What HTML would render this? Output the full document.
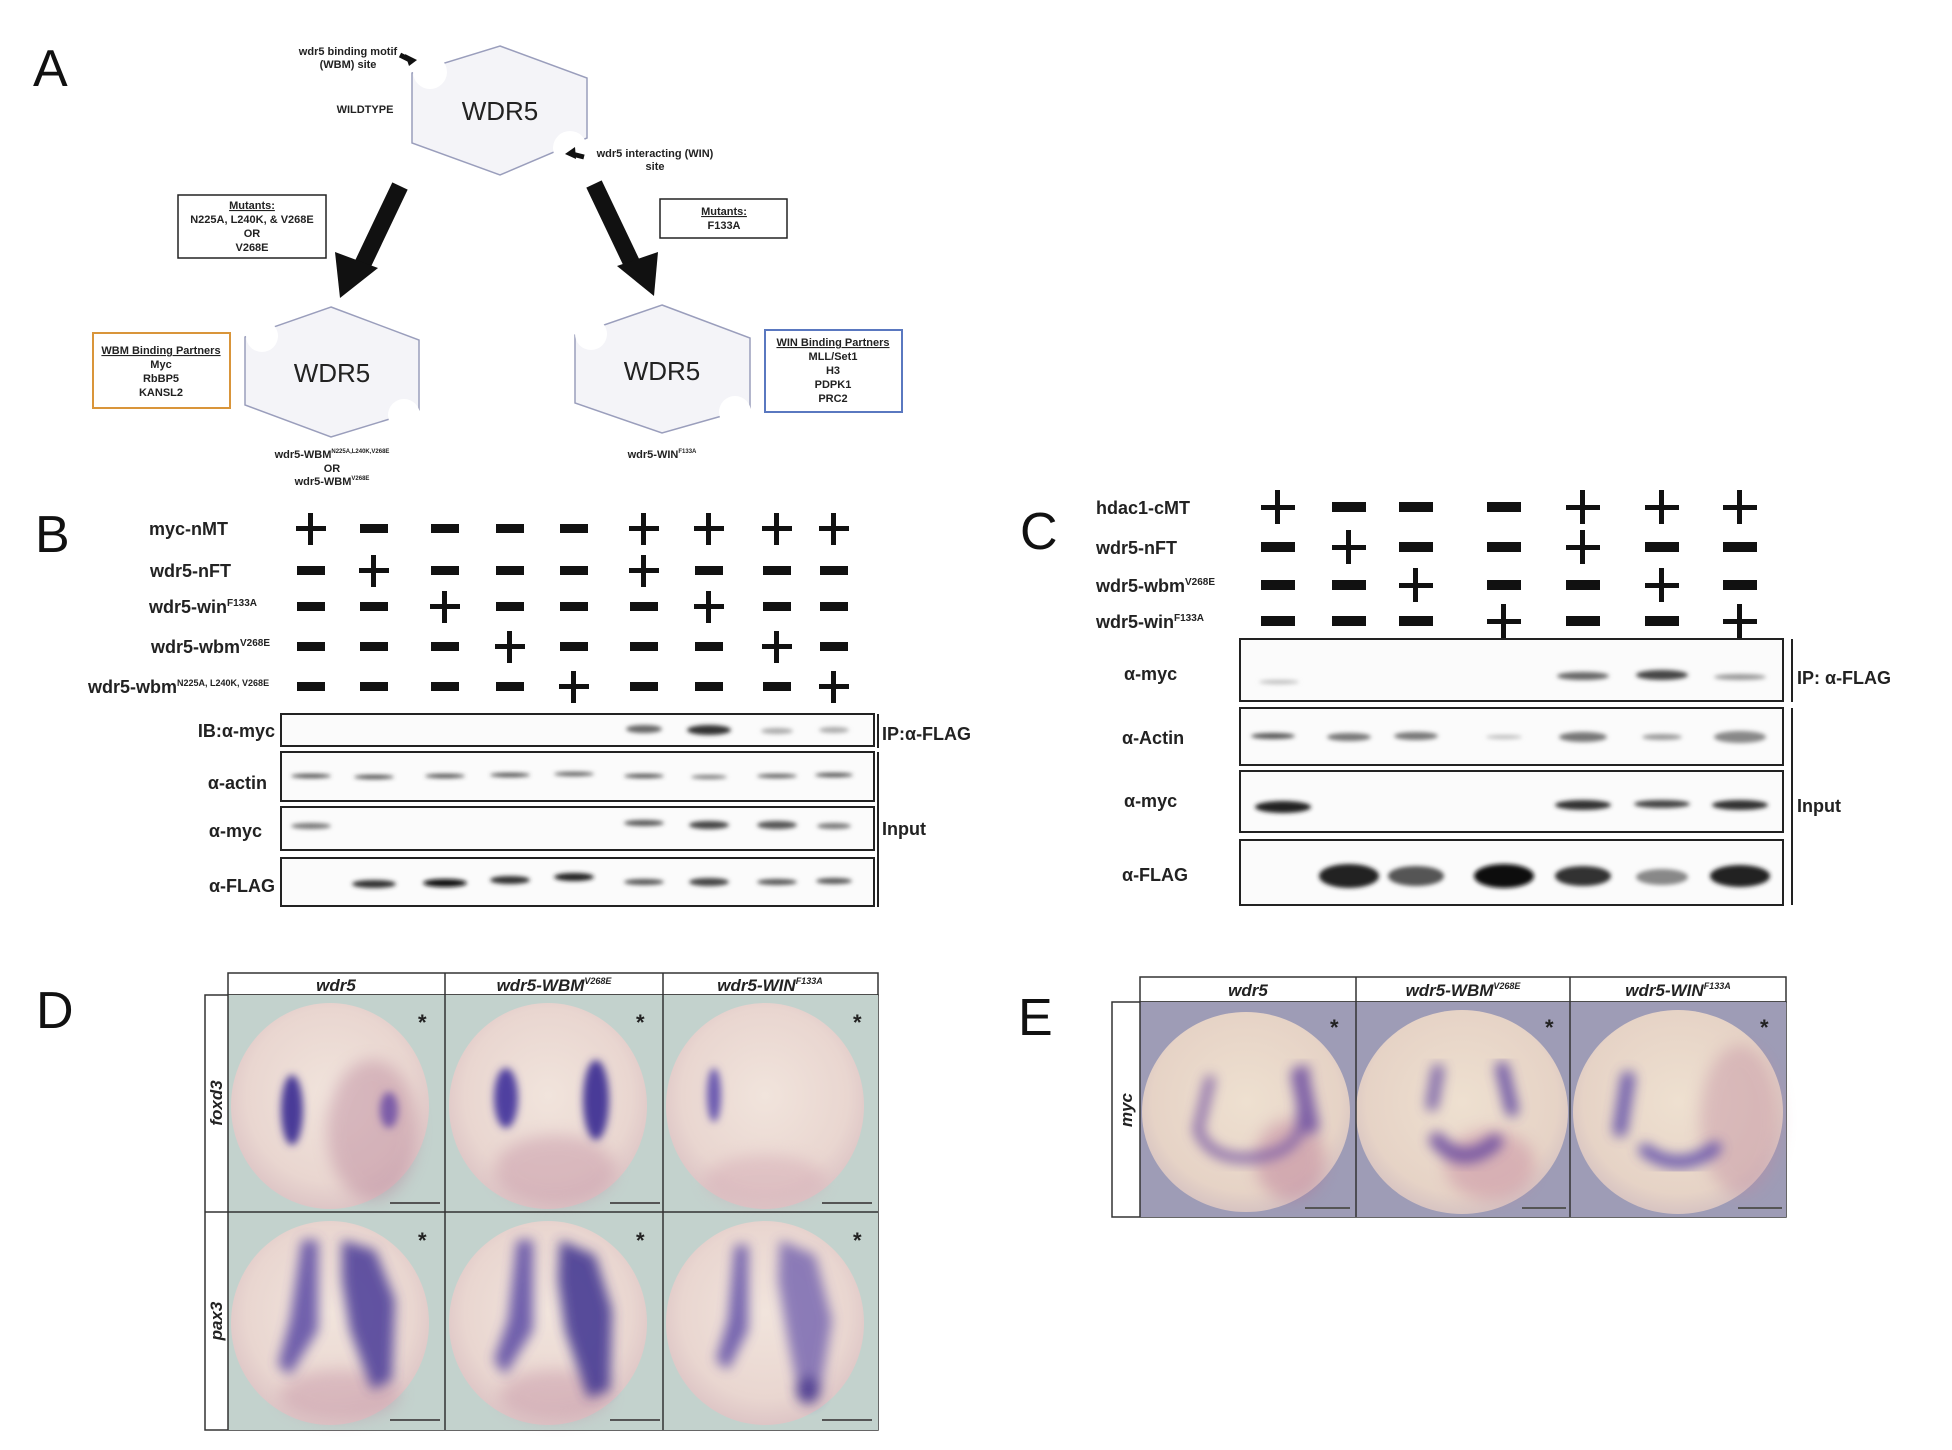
<!DOCTYPE html>
<html><head><meta charset="utf-8">
<style>
html,body{margin:0;padding:0;background:#fff;}
svg{display:block;}
text{font-family:"Liberation Sans Narrow","Liberation Sans",sans-serif;font-weight:bold;fill:#222;}
.s{font-size:11px;}
.lab{font-size:18px;}
.big{font-family:"Liberation Sans","DejaVu Sans",sans-serif;font-weight:normal;font-size:52px;fill:#111;}
.it{font-style:italic;font-size:17px;}
</style></head><body>
<svg width="1952" height="1450" viewBox="0 0 1952 1450" xmlns="http://www.w3.org/2000/svg">
<defs>
<filter id="b2"><feGaussianBlur stdDeviation="2"/></filter>
<filter id="b4"><feGaussianBlur stdDeviation="4"/></filter>
<filter id="b6"><feGaussianBlur stdDeviation="6"/></filter>
<filter id="b8"><feGaussianBlur stdDeviation="8"/></filter>
<radialGradient id="emb" cx="50%" cy="45%" r="60%">
<stop offset="0" stop-color="#f1e4dc"/><stop offset="0.7" stop-color="#e9d6d0"/><stop offset="1" stop-color="#d9bfc2"/>
</radialGradient>
<radialGradient id="embE" cx="50%" cy="45%" r="60%">
<stop offset="0" stop-color="#eee0d0"/><stop offset="0.75" stop-color="#e6d3c6"/><stop offset="1" stop-color="#d0bcc0"/>
</radialGradient>
</defs>

<!-- ===== Panel A ===== -->
<text x="33" y="86" class="big">A</text>
<polygon points="500,46 587,78 587,138 500,175 412,143 412,73" fill="#f4f4f8" stroke="#9a9ebc" stroke-width="1.5"/>
<circle cx="430" cy="72" r="17" fill="#fff"/>
<circle cx="570" cy="148" r="17" fill="#fff"/>
<text x="500" y="120" font-size="26" style="font-family:'Liberation Sans',sans-serif;font-weight:normal" text-anchor="middle">WDR5</text>
<text x="365" y="113" class="s" text-anchor="middle">WILDTYPE</text>
<text x="348" y="55" class="s" text-anchor="middle">wdr5 binding motif</text>
<text x="348" y="68" class="s" text-anchor="middle">(WBM) site</text>
<path d="M405,54 L417,60 L409,66 Z" fill="#111"/><line x1="400" y1="55" x2="412" y2="61" stroke="#111" stroke-width="5"/>
<path d="M565,154 L575,147 L576,159 Z" fill="#111"/><line x1="584" y1="157" x2="572" y2="154" stroke="#111" stroke-width="5"/>
<text x="655" y="157" class="s" text-anchor="middle">wdr5 interacting (WIN)</text>
<text x="655" y="170" class="s" text-anchor="middle">site</text>
<line x1="400" y1="186" x2="360" y2="270" stroke="#111" stroke-width="17"/>
<polygon points="340,298 335,252 378,268" fill="#111"/>
<line x1="594" y1="184" x2="634" y2="268" stroke="#111" stroke-width="17"/>
<polygon points="654,296 617,266 658,252" fill="#111"/>
<rect x="178" y="195" width="148" height="63" fill="#fff" stroke="#222" stroke-width="1.5"/>
<text x="252" y="209" class="s" text-anchor="middle" text-decoration="underline">Mutants:</text>
<text x="252" y="223" class="s" text-anchor="middle">N225A, L240K, &amp; V268E</text>
<text x="252" y="237" class="s" text-anchor="middle">OR</text>
<text x="252" y="251" class="s" text-anchor="middle">V268E</text>
<rect x="660" y="199" width="127" height="39" fill="#fff" stroke="#222" stroke-width="1.5"/>
<text x="724" y="215" class="s" text-anchor="middle" text-decoration="underline">Mutants:</text>
<text x="724" y="229" class="s" text-anchor="middle">F133A</text>
<polygon points="331,307 419,340 419,410 331,437 245,405 245,337" fill="#f4f4f8" stroke="#9a9ebc" stroke-width="1.5"/>
<circle cx="262" cy="336" r="16" fill="#fff"/>
<circle cx="404" cy="415" r="16" fill="#fff"/>
<text x="332" y="382" font-size="26" style="font-family:'Liberation Sans',sans-serif;font-weight:normal" text-anchor="middle">WDR5</text>
<polygon points="662,305 750,338 750,408 662,433 575,403 575,335" fill="#f4f4f8" stroke="#9a9ebc" stroke-width="1.5"/>
<circle cx="591" cy="334" r="16" fill="#fff"/>
<circle cx="735" cy="412" r="16" fill="#fff"/>
<text x="662" y="380" font-size="26" style="font-family:'Liberation Sans',sans-serif;font-weight:normal" text-anchor="middle">WDR5</text>
<rect x="93" y="333" width="137" height="75" fill="#fff" stroke="#d9953a" stroke-width="2"/>
<text x="161" y="354" class="s" text-anchor="middle" text-decoration="underline">WBM Binding Partners</text>
<text x="161" y="368" class="s" text-anchor="middle">Myc</text>
<text x="161" y="382" class="s" text-anchor="middle">RbBP5</text>
<text x="161" y="396" class="s" text-anchor="middle">KANSL2</text>
<rect x="765" y="330" width="137" height="82" fill="#fff" stroke="#5a78c0" stroke-width="2"/>
<text x="833" y="346" class="s" text-anchor="middle" text-decoration="underline">WIN Binding Partners</text>
<text x="833" y="360" class="s" text-anchor="middle">MLL/Set1</text>
<text x="833" y="374" class="s" text-anchor="middle">H3</text>
<text x="833" y="388" class="s" text-anchor="middle">PDPK1</text>
<text x="833" y="402" class="s" text-anchor="middle">PRC2</text>
<text x="332" y="458" class="s" text-anchor="middle">wdr5-WBM<tspan font-size="6" dy="-5">N225A,L240K,V268E</tspan></text>
<text x="332" y="472" class="s" text-anchor="middle">OR</text>
<text x="332" y="485" class="s" text-anchor="middle">wdr5-WBM<tspan font-size="6" dy="-5">V268E</tspan></text>
<text x="662" y="458" class="s" text-anchor="middle">wdr5-WIN<tspan font-size="6" dy="-5">F133A</tspan></text>

<!-- ===== Panel B ===== -->
<text x="35" y="552" class="big">B</text>
<text x="149" y="535" class="lab">myc-nMT</text>
<text x="150" y="577" class="lab">wdr5-nFT</text>
<text x="149" y="613" class="lab">wdr5-win<tspan font-size="10" dy="-7">F133A</tspan></text>
<text x="151" y="653" class="lab">wdr5-wbm<tspan font-size="10" dy="-7">V268E</tspan></text>
<text x="88" y="693" class="lab" font-size="16">wdr5-wbm<tspan font-size="9" dy="-7">N225A, L240K, V268E</tspan></text>
<g fill="#111">
<path d="M296,526h30v5h-30zM308,513h5v32h-5z"/>
<rect x="360" y="524" width="28" height="9"/><rect x="431" y="524" width="28" height="9"/><rect x="496" y="524" width="28" height="9"/><rect x="560" y="524" width="28" height="9"/>
<path d="M629,526h30v5h-30zM641,513h5v32h-5z"/><path d="M694,526h30v5h-30zM706,513h5v32h-5z"/><path d="M762,526h30v5h-30zM774,513h5v32h-5z"/><path d="M819,526h30v5h-30zM831,513h5v32h-5z"/>
<rect x="297" y="566" width="28" height="9"/><path d="M359,568h30v5h-30zM371,555h5v32h-5z"/><rect x="431" y="566" width="28" height="9"/><rect x="496" y="566" width="28" height="9"/><rect x="560" y="566" width="28" height="9"/>
<path d="M629,568h30v5h-30zM641,555h5v32h-5z"/><rect x="695" y="566" width="28" height="9"/><rect x="763" y="566" width="28" height="9"/><rect x="820" y="566" width="28" height="9"/>
<rect x="297" y="602" width="28" height="9"/><rect x="360" y="602" width="28" height="9"/><path d="M430,604h30v5h-30zM442,591h5v32h-5z"/><rect x="496" y="602" width="28" height="9"/><rect x="560" y="602" width="28" height="9"/>
<rect x="630" y="602" width="28" height="9"/><path d="M694,604h30v5h-30zM706,591h5v32h-5z"/><rect x="763" y="602" width="28" height="9"/><rect x="820" y="602" width="28" height="9"/>
<rect x="297" y="642" width="28" height="9"/><rect x="360" y="642" width="28" height="9"/><rect x="431" y="642" width="28" height="9"/><path d="M495,644h30v5h-30zM507,631h5v32h-5z"/><rect x="560" y="642" width="28" height="9"/>
<rect x="630" y="642" width="28" height="9"/><rect x="695" y="642" width="28" height="9"/><path d="M762,644h30v5h-30zM774,631h5v32h-5z"/><rect x="820" y="642" width="28" height="9"/>
<rect x="297" y="682" width="28" height="9"/><rect x="360" y="682" width="28" height="9"/><rect x="431" y="682" width="28" height="9"/><rect x="496" y="682" width="28" height="9"/><path d="M559,684h30v5h-30zM571,671h5v32h-5z"/>
<rect x="630" y="682" width="28" height="9"/><rect x="695" y="682" width="28" height="9"/><rect x="763" y="682" width="28" height="9"/><path d="M819,684h30v5h-30zM831,671h5v32h-5z"/>
</g>
<g fill="#fbfbfb" stroke="#222" stroke-width="2">
<rect x="281" y="714" width="593" height="32"/>
<rect x="281" y="752" width="593" height="49"/>
<rect x="281" y="807" width="593" height="43"/>
<rect x="281" y="858" width="593" height="48"/>
</g>
<line x1="878" y1="714" x2="878" y2="748" stroke="#222" stroke-width="2"/>
<line x1="878" y1="752" x2="878" y2="907" stroke="#222" stroke-width="2"/>
<g filter="url(#b2)">
<ellipse cx="644" cy="729" rx="18" ry="4" fill="#666"/><ellipse cx="709" cy="730" rx="22" ry="5" fill="#333"/><ellipse cx="777" cy="731" rx="16" ry="3" fill="#aaa"/><ellipse cx="834" cy="730" rx="15" ry="3" fill="#aaa"/>
<ellipse cx="311" cy="776" rx="20" ry="2" fill="#444"/><ellipse cx="374" cy="777" rx="20" ry="2" fill="#444"/><ellipse cx="445" cy="776" rx="20" ry="2" fill="#444"/><ellipse cx="510" cy="775" rx="20" ry="2" fill="#444"/><ellipse cx="574" cy="774" rx="20" ry="2" fill="#555"/><ellipse cx="644" cy="776" rx="20" ry="2" fill="#444"/><ellipse cx="709" cy="777" rx="18" ry="2" fill="#777"/><ellipse cx="777" cy="776" rx="20" ry="2" fill="#555"/><ellipse cx="834" cy="775" rx="19" ry="2" fill="#444"/>
<ellipse cx="311" cy="826" rx="20" ry="3" fill="#777"/><ellipse cx="644" cy="823" rx="20" ry="3" fill="#555"/><ellipse cx="709" cy="825" rx="20" ry="4" fill="#444"/><ellipse cx="777" cy="825" rx="20" ry="4" fill="#555"/><ellipse cx="834" cy="826" rx="17" ry="3" fill="#777"/>
<ellipse cx="374" cy="884" rx="22" ry="4" fill="#333"/><ellipse cx="445" cy="883" rx="22" ry="4" fill="#111"/><ellipse cx="510" cy="880" rx="20" ry="4" fill="#333"/><ellipse cx="574" cy="877" rx="20" ry="4" fill="#222"/><ellipse cx="644" cy="882" rx="20" ry="3" fill="#555"/><ellipse cx="709" cy="882" rx="20" ry="4" fill="#444"/><ellipse cx="777" cy="882" rx="20" ry="3" fill="#555"/><ellipse cx="834" cy="881" rx="18" ry="3" fill="#555"/>
</g>
<text x="275" y="737" class="lab" font-size="21" text-anchor="end">IB:α-myc</text>
<text x="267" y="789" class="lab" font-size="21" text-anchor="end">α-actin</text>
<text x="262" y="837" class="lab" font-size="21" text-anchor="end">α-myc</text>
<text x="275" y="892" class="lab" font-size="21" text-anchor="end">α-FLAG</text>
<text x="882" y="740" class="lab" font-size="21">IP:α-FLAG</text>
<text x="882" y="835" class="lab" font-size="21">Input</text>

<!-- ===== Panel C ===== -->
<text x="1020" y="549" class="big">C</text>
<text x="1096" y="514" class="lab">hdac1-cMT</text>
<text x="1096" y="554" class="lab">wdr5-nFT</text>
<text x="1096" y="592" class="lab">wdr5-wbm<tspan font-size="10" dy="-7">V268E</tspan></text>
<text x="1096" y="628" class="lab">wdr5-win<tspan font-size="10" dy="-7">F133A</tspan></text>
<g fill="#111">
<path d="M1261,505h34v5h-34zM1275,490h5v34h-5z"/><rect x="1332" y="502" width="34" height="10"/><rect x="1399" y="502" width="34" height="10"/><rect x="1487" y="502" width="34" height="10"/>
<path d="M1566,505h34v5h-34zM1580,490h5v34h-5z"/><path d="M1645,505h34v5h-34zM1659,490h5v34h-5z"/><path d="M1723,505h34v5h-34zM1737,490h5v34h-5z"/>
<rect x="1261" y="542" width="34" height="10"/><path d="M1332,545h34v5h-34zM1346,530h5v34h-5z"/><rect x="1399" y="542" width="34" height="10"/><rect x="1487" y="542" width="34" height="10"/>
<path d="M1566,545h34v5h-34zM1580,530h5v34h-5z"/><rect x="1645" y="542" width="34" height="10"/><rect x="1723" y="542" width="34" height="10"/>
<rect x="1261" y="580" width="34" height="10"/><rect x="1332" y="580" width="34" height="10"/><path d="M1399,583h34v5h-34zM1413,568h5v34h-5z"/><rect x="1487" y="580" width="34" height="10"/>
<rect x="1566" y="580" width="34" height="10"/><path d="M1645,583h34v5h-34zM1659,568h5v34h-5z"/><rect x="1723" y="580" width="34" height="10"/>
<rect x="1261" y="616" width="34" height="10"/><rect x="1332" y="616" width="34" height="10"/><rect x="1399" y="616" width="34" height="10"/><path d="M1487,619h34v5h-34zM1501,604h5v34h-5z"/>
<rect x="1566" y="616" width="34" height="10"/><rect x="1645" y="616" width="34" height="10"/><path d="M1723,619h34v5h-34zM1737,604h5v34h-5z"/>
</g>
<g fill="#fbfbfb" stroke="#222" stroke-width="2">
<rect x="1240" y="639" width="543" height="62"/>
<rect x="1240" y="708" width="543" height="57"/>
<rect x="1240" y="771" width="543" height="61"/>
<rect x="1240" y="840" width="543" height="65"/>
</g>
<line x1="1792" y1="639" x2="1792" y2="702" stroke="#222" stroke-width="2"/>
<line x1="1792" y1="708" x2="1792" y2="905" stroke="#222" stroke-width="2"/>
<g filter="url(#b2)">
<ellipse cx="1583" cy="676" rx="26" ry="4" fill="#666"/><ellipse cx="1662" cy="675" rx="26" ry="5" fill="#444"/><ellipse cx="1740" cy="677" rx="26" ry="3" fill="#999"/>
<ellipse cx="1279" cy="682" rx="20" ry="2" fill="#bbb"/>
<ellipse cx="1273" cy="736" rx="22" ry="3" fill="#555"/><ellipse cx="1349" cy="737" rx="22" ry="4" fill="#777"/><ellipse cx="1416" cy="736" rx="22" ry="4" fill="#777"/><ellipse cx="1504" cy="737" rx="18" ry="2" fill="#bbb"/><ellipse cx="1583" cy="737" rx="24" ry="5" fill="#777"/><ellipse cx="1662" cy="737" rx="20" ry="3" fill="#999"/><ellipse cx="1740" cy="737" rx="26" ry="6" fill="#888"/>
<ellipse cx="1283" cy="807" rx="28" ry="6" fill="#222"/><ellipse cx="1583" cy="805" rx="28" ry="5" fill="#333"/><ellipse cx="1662" cy="804" rx="28" ry="4" fill="#444"/><ellipse cx="1740" cy="805" rx="28" ry="5" fill="#333"/>
<ellipse cx="1349" cy="876" rx="30" ry="12" fill="#222"/><ellipse cx="1416" cy="876" rx="28" ry="10" fill="#555"/><ellipse cx="1504" cy="876" rx="30" ry="12" fill="#111"/><ellipse cx="1583" cy="876" rx="28" ry="10" fill="#333"/><ellipse cx="1662" cy="877" rx="26" ry="8" fill="#888"/><ellipse cx="1740" cy="876" rx="30" ry="11" fill="#222"/>
</g>
<text x="1124" y="680" class="lab" font-size="23">α-myc</text>
<text x="1122" y="744" class="lab" font-size="23">α-Actin</text>
<text x="1124" y="807" class="lab" font-size="23">α-myc</text>
<text x="1122" y="881" class="lab" font-size="23">α-FLAG</text>
<text x="1797" y="684" class="lab" font-size="23">IP: α-FLAG</text>
<text x="1797" y="812" class="lab" font-size="23">Input</text>

<!-- ===== Panel D ===== -->
<text x="36" y="1028" class="big">D</text>
<rect x="228" y="973" width="650" height="22" fill="#fff" stroke="#333" stroke-width="1.5"/>
<line x1="445" y1="973" x2="445" y2="995" stroke="#333" stroke-width="1.5"/>
<line x1="663" y1="973" x2="663" y2="995" stroke="#333" stroke-width="1.5"/>
<text x="336" y="991" class="it" text-anchor="middle">wdr5</text>
<text x="554" y="991" class="it" text-anchor="middle">wdr5-WBM<tspan font-size="9" dy="-7">V268E</tspan></text>
<text x="770" y="991" class="it" text-anchor="middle">wdr5-WIN<tspan font-size="9" dy="-7">F133A</tspan></text>
<rect x="205" y="995" width="673" height="435" fill="#fff" stroke="#333" stroke-width="1.5"/>
<rect x="228" y="995" width="650" height="435" fill="#c3d2cd"/>
<ellipse cx="330" cy="1106" rx="99" ry="103" fill="url(#emb)"/>
<ellipse cx="548" cy="1106" rx="99" ry="103" fill="url(#emb)"/>
<ellipse cx="765" cy="1106" rx="99" ry="103" fill="url(#emb)"/>
<ellipse cx="330" cy="1323" rx="99" ry="102" fill="url(#emb)"/>
<ellipse cx="548" cy="1323" rx="99" ry="102" fill="url(#emb)"/>
<ellipse cx="765" cy="1323" rx="99" ry="102" fill="url(#emb)"/>
<g filter="url(#b8)" opacity="0.4">
<ellipse cx="372" cy="1130" rx="45" ry="70" fill="#b47a94"/>
<ellipse cx="555" cy="1170" rx="60" ry="35" fill="#c08aa0"/>
<ellipse cx="765" cy="1180" rx="60" ry="25" fill="#d0a2b0"/>
<ellipse cx="340" cy="1395" rx="60" ry="25" fill="#c08aa0"/>
<ellipse cx="555" cy="1395" rx="55" ry="25" fill="#c08aa0"/>
</g>
<g filter="url(#b4)">
<ellipse cx="292" cy="1110" rx="11" ry="35" fill="#4a3a98"/>
<ellipse cx="389" cy="1110" rx="9" ry="18" fill="#7b5ca8"/>
<ellipse cx="506" cy="1098" rx="12" ry="30" fill="#5040a0"/>
<ellipse cx="596" cy="1100" rx="13" ry="40" fill="#4a3a98"/>
<ellipse cx="714" cy="1095" rx="7" ry="27" fill="#6a5ab0"/>
</g>
<g filter="url(#b6)" opacity="0.85">
<path d="M302,1240 L318,1240 L318,1330 L290,1375 L278,1365 L290,1320 Z" fill="#5a4aa4"/>
<path d="M342,1240 L375,1250 L395,1300 L392,1380 L372,1390 L350,1330 L342,1280 Z" fill="#4a3a98"/>
<path d="M517,1240 L533,1240 L533,1330 L505,1375 L494,1360 L508,1320 Z" fill="#5a4aa4"/>
<path d="M560,1240 L595,1255 L612,1310 L610,1390 L588,1398 L565,1330 L558,1280 Z" fill="#3e3090"/>
<path d="M735,1245 L748,1245 L748,1330 L728,1370 L716,1360 L728,1320 Z" fill="#6050a8"/>
<path d="M780,1240 L815,1255 L832,1320 L820,1395 L800,1400 L788,1340 L778,1280 Z" fill="#6656ac" opacity="0.85"/>
<ellipse cx="808" cy="1390" rx="12" ry="14" fill="#3a2c8a"/>
</g>
<line x1="445" y1="995" x2="445" y2="1430" stroke="#333" stroke-width="1.5"/>
<line x1="663" y1="995" x2="663" y2="1430" stroke="#333" stroke-width="1.5"/>
<line x1="205" y1="1212" x2="878" y2="1212" stroke="#333" stroke-width="1.5"/>
<line x1="228" y1="995" x2="228" y2="1430" stroke="#333" stroke-width="1.5"/>
<g style="font-family:'Liberation Sans',sans-serif" fill="#222">
<text x="418" y="1030" font-size="22">*</text><text x="636" y="1030" font-size="22">*</text><text x="853" y="1030" font-size="22">*</text>
<text x="418" y="1248" font-size="22">*</text><text x="636" y="1248" font-size="22">*</text><text x="853" y="1248" font-size="22">*</text>
</g>
<g stroke="#555" stroke-width="2">
<line x1="390" y1="1203" x2="440" y2="1203"/><line x1="610" y1="1203" x2="660" y2="1203"/><line x1="822" y1="1203" x2="872" y2="1203"/>
<line x1="390" y1="1420" x2="440" y2="1420"/><line x1="610" y1="1420" x2="660" y2="1420"/><line x1="822" y1="1420" x2="872" y2="1420"/>
</g>
<text transform="translate(222,1103) rotate(-90)" class="it" text-anchor="middle">foxd3</text>
<text transform="translate(222,1321) rotate(-90)" class="it" text-anchor="middle">pax3</text>

<!-- ===== Panel E ===== -->
<text x="1018" y="1035" class="big">E</text>
<rect x="1140" y="977" width="646" height="25" fill="#fff" stroke="#333" stroke-width="1.5"/>
<line x1="1356" y1="977" x2="1356" y2="1002" stroke="#333" stroke-width="1.5"/>
<line x1="1570" y1="977" x2="1570" y2="1002" stroke="#333" stroke-width="1.5"/>
<text x="1248" y="996" class="it" text-anchor="middle">wdr5</text>
<text x="1463" y="996" class="it" text-anchor="middle">wdr5-WBM<tspan font-size="9" dy="-7">V268E</tspan></text>
<text x="1678" y="996" class="it" text-anchor="middle">wdr5-WIN<tspan font-size="9" dy="-7">F133A</tspan></text>
<rect x="1112" y="1002" width="674" height="215" fill="#fff" stroke="#333" stroke-width="1.5"/>
<rect x="1140" y="1002" width="646" height="215" fill="#9e9cb6"/>
<ellipse cx="1246" cy="1112" rx="104" ry="100" fill="url(#embE)"/>
<ellipse cx="1462" cy="1112" rx="106" ry="102" fill="url(#embE)"/>
<ellipse cx="1678" cy="1112" rx="105" ry="102" fill="url(#embE)"/>
<g filter="url(#b8)" opacity="0.4">
<ellipse cx="1290" cy="1160" rx="35" ry="40" fill="#b46c90"/>
<ellipse cx="1490" cy="1165" rx="45" ry="35" fill="#c07a98"/>
<ellipse cx="1740" cy="1120" rx="40" ry="75" fill="#c08aa0"/>
</g>
<g filter="url(#b6)" fill="none" stroke-linecap="round" opacity="0.85">
<path d="M1210,1080 L1198,1130 Q1210,1160 1250,1158 Q1290,1155 1300,1130 L1305,1070" stroke="#7a5ca6" stroke-width="10"/>
<path d="M1300,1075 L1310,1125" stroke="#6a4ca0" stroke-width="18"/>
<path d="M1438,1070 L1432,1105" stroke="#6a52a4" stroke-width="12"/>
<path d="M1502,1068 L1512,1110" stroke="#5a42a0" stroke-width="13"/>
<path d="M1437,1140 Q1462,1170 1495,1142" stroke="#6a4ca0" stroke-width="16"/>
<path d="M1628,1078 L1620,1130" stroke="#5a48a8" stroke-width="14"/>
<path d="M1645,1150 Q1680,1175 1715,1148" stroke="#5a4aaa" stroke-width="13"/>
</g>
<line x1="1140" y1="1002" x2="1140" y2="1217" stroke="#333" stroke-width="1.5"/>
<line x1="1356" y1="1002" x2="1356" y2="1217" stroke="#333" stroke-width="1.5"/>
<line x1="1570" y1="1002" x2="1570" y2="1217" stroke="#333" stroke-width="1.5"/>
<g style="font-family:'Liberation Sans',sans-serif" fill="#222">
<text x="1330" y="1035" font-size="22">*</text><text x="1545" y="1035" font-size="22">*</text><text x="1760" y="1035" font-size="22">*</text>
</g>
<g stroke="#555" stroke-width="2">
<line x1="1305" y1="1208" x2="1350" y2="1208"/><line x1="1522" y1="1208" x2="1566" y2="1208"/><line x1="1738" y1="1208" x2="1782" y2="1208"/>
</g>
<text transform="translate(1132,1110) rotate(-90)" class="it" font-size="14" text-anchor="middle">myc</text>
</svg>
</body></html>
